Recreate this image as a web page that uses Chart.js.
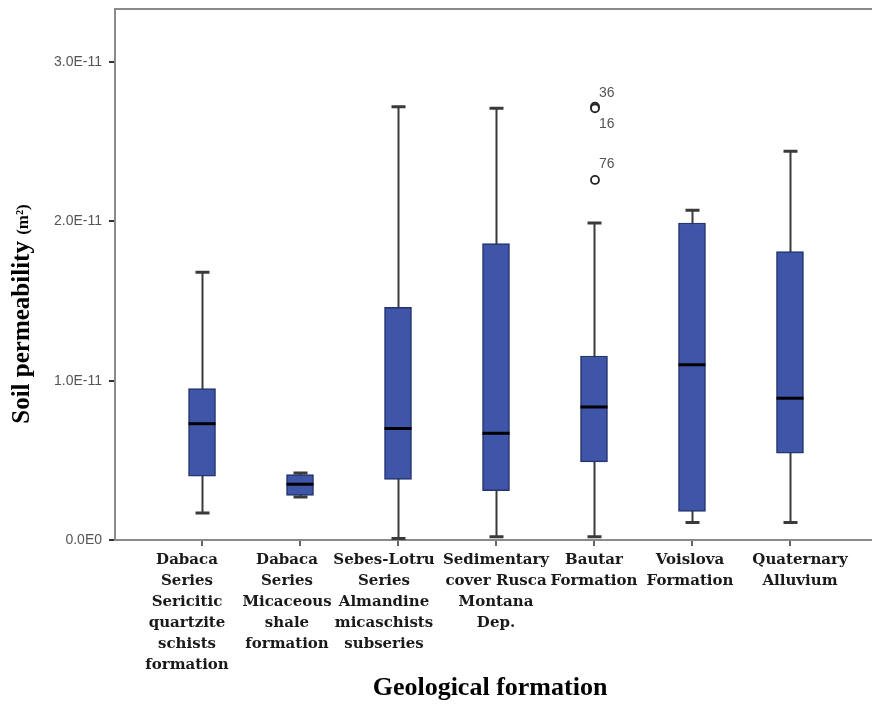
<!DOCTYPE html>
<html>
<head>
<meta charset="utf-8">
<script src="https://cdn.jsdelivr.net/npm/chart.js@4/dist/chart.umd.min.js"></script>
<style>
  html, body { margin: 0; padding: 0; background: #fff; }
  #wrap { width: 872px; height: 704px; position: relative; }
</style>
</head>
<body>
<div id="wrap"><canvas id="c" width="872" height="704"></canvas></div>
<script>
// Geological formations (one multi-line label each)
const categories = [
  ['Dabaca', 'Series', 'Sericitic', 'quartzite', 'schists', 'formation'],
  ['Dabaca', 'Series', 'Micaceous', 'shale', 'formation'],
  ['Sebes-Lotru', 'Series', 'Almandine', 'micaschists', 'subseries'],
  ['Sedimentary', 'cover Rusca', 'Montana', 'Dep.'],
  ['Bautar', 'Formation'],
  ['Voislova', 'Formation'],
  ['Quaternary', 'Alluvium']
];

// Box-plot statistics of soil permeability (m²)
const whiskerLow  = [0.17e-11, 0.27e-11, 0.01e-11, 0.02e-11, 0.02e-11, 0.11e-11, 0.11e-11];
const q1          = [0.40e-11, 0.28e-11, 0.38e-11, 0.31e-11, 0.49e-11, 0.18e-11, 0.545e-11];
const median      = [0.73e-11, 0.35e-11, 0.70e-11, 0.67e-11, 0.835e-11, 1.10e-11, 0.89e-11];
const q3          = [0.95e-11, 0.41e-11, 1.46e-11, 1.86e-11, 1.155e-11, 1.99e-11, 1.81e-11];
const whiskerHigh = [1.68e-11, 0.42e-11, 2.72e-11, 2.71e-11, 1.99e-11, 2.07e-11, 2.44e-11];

// Outlying cases
const outlierCat   = [4, 4, 4];
const outlierValue = [2.72e-11, 2.71e-11, 2.26e-11];
const outlierLabel = ['36', '16', '76'];

// Y-axis ticks
const yTicks      = [0, 1e-11, 2e-11, 3e-11];
const yTickLabels = ['0.0E0', '1.0E-11', '2.0E-11', '3.0E-11'];

const axisTitleY = 'Soil permeability ';
const axisTitleYUnit = '(m\u00b2)';
const axisTitleX = 'Geological formation';

const BOX_FILL = '#3f56a8';
const BOX_EDGE = '#25336f';
const WHISKER = '#3a3a3a';
const SERIF = '"Liberation Serif", "Times New Roman", serif';
// horizontal nudge of each category label block
const labelShift = [-15, -13, -14, 0, 0, -2, 10];

const boxParts = {
  id: 'boxParts',
  beforeDatasetsDraw(chart) {
    const { ctx, scales: { x, y } } = chart;
    ctx.save();
    ctx.strokeStyle = WHISKER;
    for (let i = 0; i < categories.length; i++) {
      const cx = Math.round(x.getPixelForValue(i)) + 0.5;
      const yl = y.getPixelForValue(whiskerLow[i]);
      const yh = y.getPixelForValue(whiskerHigh[i]);
      ctx.lineWidth = 2;
      ctx.beginPath();
      ctx.moveTo(cx, yl); ctx.lineTo(cx, yh);
      ctx.stroke();
      ctx.lineWidth = 3;
      ctx.beginPath();
      ctx.moveTo(cx - 7, yl); ctx.lineTo(cx + 7, yl);
      ctx.moveTo(cx - 7, yh); ctx.lineTo(cx + 7, yh);
      ctx.stroke();
    }
    ctx.restore();
  },
  afterDatasetsDraw(chart) {
    const { ctx, scales: { x, y } } = chart;
    ctx.save();
    // medians
    ctx.strokeStyle = '#000';
    ctx.lineWidth = 3;
    for (let i = 0; i < categories.length; i++) {
      const cx = x.getPixelForValue(i);
      const ym = y.getPixelForValue(median[i]);
      ctx.beginPath();
      ctx.moveTo(cx - 13.5, ym); ctx.lineTo(cx + 13.5, ym);
      ctx.stroke();
    }
    // outliers with case numbers
    const labelDy = { '36': -14, '16': 16, '76': -16 };
    ctx.font = '14px "Liberation Sans", Arial, sans-serif';
    ctx.textBaseline = 'middle';
    ctx.textAlign = 'left';
    for (let k = 0; k < outlierValue.length; k++) {
      const cx = x.getPixelForValue(outlierCat[k]) + 1;
      const cy = y.getPixelForValue(outlierValue[k]);
      ctx.beginPath();
      ctx.arc(cx, cy, 4, 0, Math.PI * 2);
      ctx.fillStyle = '#fff';
      ctx.fill();
      ctx.strokeStyle = '#222';
      ctx.lineWidth = 1.8;
      ctx.stroke();
      ctx.fillStyle = '#555';
      ctx.fillText(outlierLabel[k], cx + 4, cy + labelDy[outlierLabel[k]]);
    }
    ctx.restore();
  },
  afterDraw(chart) {
    const { ctx, chartArea, scales: { x } } = chart;
    ctx.save();
    // frame top edge
    ctx.strokeStyle = '#8a8a8a';
    ctx.lineWidth = 2;
    ctx.beginPath();
    ctx.moveTo(chartArea.left, chartArea.top);
    ctx.lineTo(chartArea.right, chartArea.top);
    ctx.stroke();
    // category labels
    ctx.fillStyle = '#1a1a1a';
    ctx.font = 'bold 15px "DejaVu Serif", serif';
    ctx.textAlign = 'center';
    ctx.textBaseline = 'middle';
    categories.forEach((lines, i) => {
      const cx = x.getPixelForValue(i) + labelShift[i];
      lines.forEach((t, j) => ctx.fillText(t, cx, chartArea.bottom + 20 + j * 21));
    });
    // axis titles
    ctx.fillStyle = '#000';
    ctx.font = 'bold 26px ' + SERIF;
    ctx.fillText(axisTitleX, 490, 688);
    ctx.translate(23, 314);
    ctx.rotate(-Math.PI / 2);
    const f1 = 'bold 25px ' + SERIF;
    const f2 = 'bold 17px ' + SERIF;
    ctx.font = f1;
    const w1 = ctx.measureText(axisTitleY).width;
    ctx.font = f2;
    const w2 = ctx.measureText(axisTitleYUnit).width;
    const start = -(w1 + w2) / 2;
    ctx.textAlign = 'left';
    ctx.font = f1;
    ctx.fillText(axisTitleY, start, 0);
    ctx.font = f2;
    ctx.fillText(axisTitleYUnit, start + w1, 1);
    ctx.restore();
  }
};

new Chart(document.getElementById('c'), {
  type: 'bar',
  data: {
    datasets: [{
      data: categories.map((c, i) => ({ x: i, y: [q1[i], q3[i]] })),
      backgroundColor: BOX_FILL,
      borderColor: BOX_EDGE,
      borderWidth: 1.5,
      borderSkipped: false,
      barThickness: 27
    }]
  },
  options: {
    responsive: false,
    animation: false,
    events: [],
    layout: { padding: { top: 9, right: 0, left: 0, bottom: 0 } },
    plugins: { legend: { display: false }, tooltip: { enabled: false } },
    scales: {
      x: {
        type: 'linear',
        offset: false,
        min: -0.888,
        max: 6.837,
        afterBuildTicks(scale) { scale.ticks = categories.map((c, i) => ({ value: i })); },
        afterFit(scale) { scale.height = 164; scale.paddingLeft = 0; scale.paddingRight = 0; },
        grid: { offset: false, drawOnChartArea: false, tickLength: 6, color: '#666', lineWidth: 2 },
        border: { display: true, color: '#8a8a8a', width: 2 },
        ticks: { display: false }
      },
      y: {
        type: 'linear',
        min: 0,
        max: 3.333e-11,
        afterBuildTicks(scale) { scale.ticks = yTicks.map(v => ({ value: v })); },
        afterFit(scale) { scale.width = 115; scale.paddingTop = 0; scale.paddingBottom = 0; },
        grid: { drawOnChartArea: false, tickLength: 6, color: '#333', lineWidth: 2 },
        border: { display: true, color: '#8a8a8a', width: 2 },
        ticks: {
          padding: 7,
          color: '#555',
          font: { family: '"Liberation Sans", Arial, sans-serif', size: 14 },
          callback: (v) => yTickLabels[yTicks.indexOf(v)]
        }
      }
    }
  },
  plugins: [boxParts]
});
</script>
</body>
</html>
